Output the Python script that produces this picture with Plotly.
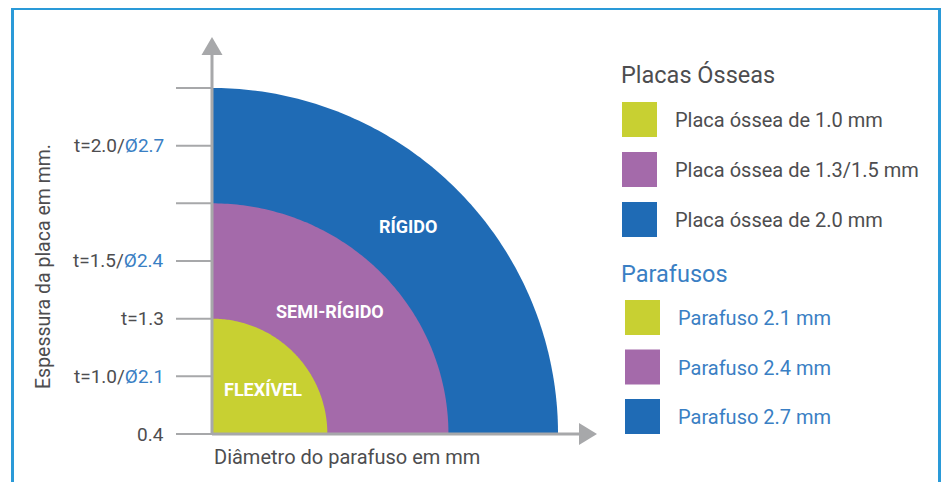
import numpy as np
import plotly.graph_objects as go

# ---------------- data ----------------
zone_labels = ["FLEXÍVEL", "SEMI-RÍGIDO", "RÍGIDO"]
zone_radius_y = [2, 4, 6]          # thickness axis, in tick steps
zone_radius_x = [2.0, 4.1, 6.0]    # diameter axis, in tick steps
tick_plate = ["0.4", "t=1.0/", "t=1.3", "t=1.5/", "", "t=2.0/", ""]
tick_screw = ["", "Ø2.1", "", "Ø2.4", "", "Ø2.7", ""]
legend_plates_title = "Placas Ósseas"
legend_plates = ["Placa óssea de 1.0 mm", "Placa óssea de 1.3/1.5 mm", "Placa óssea de 2.0 mm"]
legend_screws_title = "Parafusos"
legend_screws = ["Parafuso 2.1 mm", "Parafuso 2.4 mm", "Parafuso 2.7 mm"]
x_title = "Diâmetro do parafuso em mm"
y_title = "Espessura da placa em mm."

# ---------------- styles / layout ----------------
OFF = 8                              # page body margin
W, H = 949 - 2 * OFF, 490 - 2 * OFF  # figure size (no page overflow)
U = 57.67                            # pixels per tick step
X0, Y0 = 212 - OFF, 434 - OFF        # origin in figure pixels
zone_colors = ["#c8d032", "#a46aaa", "#1f6bb5"]
label_pos = [(0.88, 0.78), (2.05, 2.12), (3.40, 3.59)]
GRAY = "#a7a8aa"
TXT = "#4d4d4f"
BLUE_TXT = "#3a7fc4"
FONT = "Roboto"


def px(x):
    """reference page pixel -> paper x"""
    return (x - OFF) / W


def py(y):
    """reference page pixel -> paper y"""
    return 1 - (y - OFF) / H


fig = go.Figure()

# quarter discs, largest first
theta = np.linspace(0, np.pi / 2, 120)
for i in reversed(range(len(zone_labels))):
    rx, ry = zone_radius_x[i], zone_radius_y[i]
    xs = np.concatenate([[0], rx * np.cos(theta), [0]])
    ys = np.concatenate([[0], ry * np.sin(theta), [0]])
    fig.add_trace(go.Scatter(x=xs, y=ys, fill="toself", mode="none",
                             fillcolor=zone_colors[i], hoverinfo="skip",
                             showlegend=False))

shapes = []
annotations = []

# tick lines + labels
for i in range(len(tick_plate)):
    shapes.append(dict(type="line", xref="x", yref="y", x0=-36 / U, x1=0,
                       y0=i, y1=i, line=dict(color=GRAY, width=2), layer="above"))
    if tick_plate[i] or tick_screw[i]:
        txt = tick_plate[i]
        if tick_screw[i]:
            txt += f"<span style='color:{BLUE_TXT}'>{tick_screw[i]}</span>"
        annotations.append(dict(x=-(212 - 166) / U, y=i, xref="x", yref="y",
                                text=txt, showarrow=False, xanchor="right",
                                yanchor="middle",
                                font=dict(family=FONT, size=19, color=TXT)))

# axis lines
y_top = (434 - 55) / U
x_right = (579 - 212) / U
shapes.append(dict(type="line", xref="x", yref="y", x0=0, x1=0, y0=0, y1=y_top,
                   line=dict(color=GRAY, width=3), layer="above"))
shapes.append(dict(type="line", xref="x", yref="y", x0=0, x1=x_right, y0=0, y1=0,
                   line=dict(color=GRAY, width=3), layer="above"))
# arrow heads
tip_y = (434 - 37) / U
hw = 10.5 / U
shapes.append(dict(type="path", xref="x", yref="y",
                   path=f"M {-hw} {y_top} L {hw} {y_top} L 0 {tip_y} Z",
                   fillcolor=GRAY, line=dict(width=0), layer="above"))
tip_x = (597 - 212) / U
hh = 11 / U
shapes.append(dict(type="path", xref="x", yref="y",
                   path=f"M {x_right} {-hh} L {x_right} {hh} L {tip_x} 0 Z",
                   fillcolor=GRAY, line=dict(width=0), layer="above"))

# zone labels
for lab, (lx, ly) in zip(zone_labels, label_pos):
    annotations.append(dict(x=lx, y=ly, xref="x", yref="y", text=f"<b>{lab}</b>",
                            showarrow=False,
                            font=dict(family=FONT, size=18, color="white")))

# axis titles
annotations.append(dict(x=px(212), y=py(457), xref="paper", yref="paper",
                        text=x_title, showarrow=False, xanchor="left",
                        yanchor="middle", font=dict(family=FONT, size=20, color=TXT)))
annotations.append(dict(x=px(43), y=py(267), xref="paper", yref="paper",
                        text=y_title, showarrow=False, textangle=-90,
                        xanchor="center", yanchor="middle",
                        font=dict(family=FONT, size=19.5, color=TXT)))

# legend: plates
annotations.append(dict(x=px(619), y=py(75), xref="paper", yref="paper",
                        text=legend_plates_title, showarrow=False, xanchor="left",
                        yanchor="middle", font=dict(family=FONT, size=23.5, color=TXT)))
for k, name in enumerate(legend_plates):
    top = 102 + 50 * k
    shapes.append(dict(type="rect", xref="paper", yref="paper",
                       x0=px(622), x1=px(657), y0=py(top + 35), y1=py(top),
                       fillcolor=zone_colors[k], line=dict(width=0)))
    annotations.append(dict(x=px(673), y=py(top + 18), xref="paper", yref="paper",
                            text=name, showarrow=False, xanchor="left",
                            yanchor="middle",
                            font=dict(family=FONT, size=20, color=TXT)))

# legend: screws
annotations.append(dict(x=px(619), y=py(274), xref="paper", yref="paper",
                        text=legend_screws_title, showarrow=False, xanchor="left",
                        yanchor="middle",
                        font=dict(family=FONT, size=23.5, color=BLUE_TXT)))
for k, name in enumerate(legend_screws):
    top = 300 + 49.5 * k
    shapes.append(dict(type="rect", xref="paper", yref="paper",
                       x0=px(625), x1=px(660), y0=py(top + 35), y1=py(top),
                       fillcolor=zone_colors[k], line=dict(width=0)))
    annotations.append(dict(x=px(676), y=py(top + 18), xref="paper", yref="paper",
                            text=name, showarrow=False, xanchor="left",
                            yanchor="middle",
                            font=dict(family=FONT, size=20, color=BLUE_TXT)))

# outer frame
shapes.append(dict(type="rect", xref="paper", yref="paper",
                   x0=px(12.5), x1=px(939.5), y0=-0.2, y1=py(8.5),
                   line=dict(color="#2a9ad8", width=3), fillcolor="rgba(0,0,0,0)"))

fig.update_layout(
    width=W, height=H, autosize=False,
    margin=dict(l=0, r=0, t=0, b=0),
    paper_bgcolor="white", plot_bgcolor="white",
    xaxis=dict(range=[-X0 / U, (W - X0) / U], visible=False, fixedrange=True),
    yaxis=dict(range=[-(H - Y0) / U, Y0 / U], visible=False, fixedrange=True),
    shapes=shapes, annotations=annotations, showlegend=False,
)

fig.write_html("out.html")
